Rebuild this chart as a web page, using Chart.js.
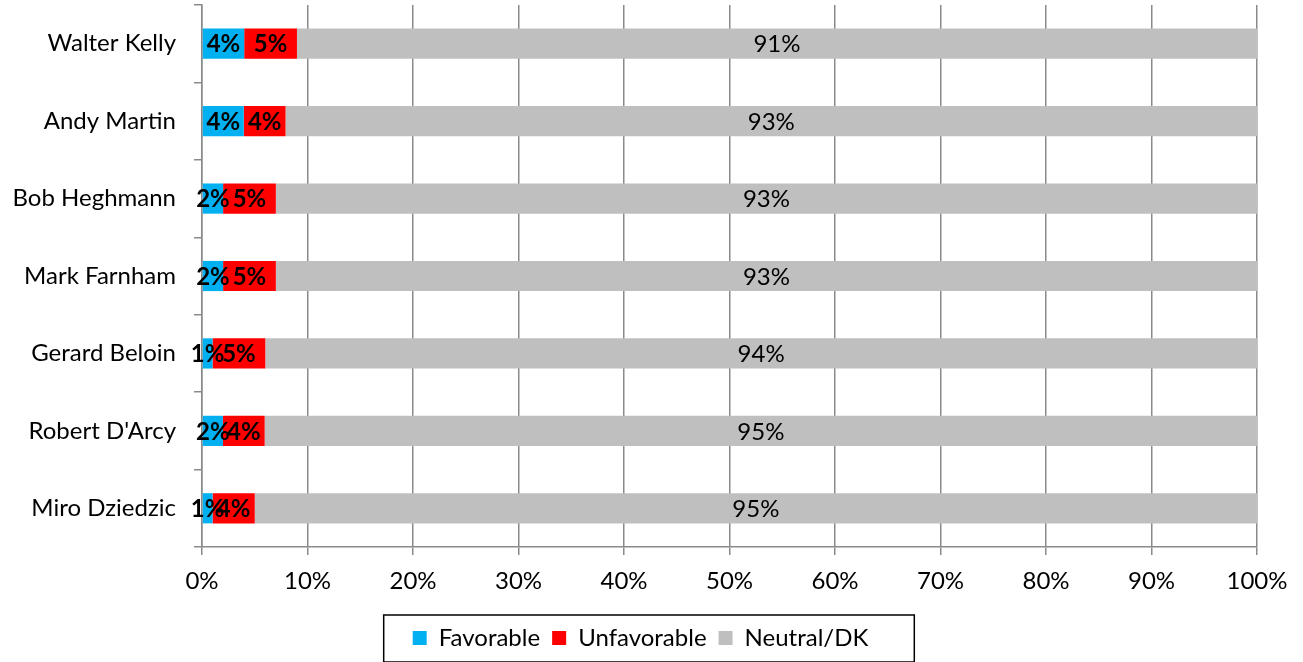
<!DOCTYPE html>
<html>
<head>
<meta charset="utf-8">
<script src="https://cdn.jsdelivr.net/npm/chart.js@4.4.1/dist/chart.umd.min.js"></script>
<style>
  html, body { margin: 0; padding: 0; background: #fff; }
  #wrap { width: 1303px; height: 662px; position: relative; }
</style>
</head>
<body>
<div id="wrap"><canvas id="bar-chart"></canvas></div>
<script>
// favorability of candidates, 100% stacked bars

const candidates = ['Walter Kelly', 'Andy Martin', 'Bob Heghmann', 'Mark Farnham', 'Gerard Beloin', "Robert D'Arcy", 'Miro Dziedzic'];
const favorable = [4, 4, 2, 2, 1, 2, 1];
const unfavorable = [5, 4, 5, 5, 5, 4, 4];
const neutral = [91, 93, 93, 93, 94, 95, 95];
const seriesNames = ['Favorable', 'Unfavorable', 'Neutral/DK'];
const tickValues = [0, 10, 20, 30, 40, 50, 60, 70, 80, 90, 100];

const FONT = 'Lato';
const gridColor = '#8a8a8a';

// Excel draws these as 100% stacked, so each row is scaled to its own total
const rows = [favorable, unfavorable, neutral];
const totals = candidates.map((c, i) => favorable[i] + unfavorable[i] + neutral[i]);
const share = (arr) => arr.map((v, i) => v / totals[i] * 100);

const barLabels = {
	id: 'barLabels',
	afterDatasetsDraw(chart) {
		const ctx = chart.ctx;
		ctx.save();
		ctx.textAlign = 'center';
		ctx.textBaseline = 'middle';
		ctx.fillStyle = '#000';
		chart.data.datasets.forEach((ds, di) => {
			ctx.font = (di < 2 ? 'bold ' : '') + '24px ' + FONT;
			chart.getDatasetMeta(di).data.forEach((bar, i) => {
				ctx.fillText(rows[di][i] + '%', (bar.x + bar.base) / 2, bar.y + 1);
			});
		});
		ctx.restore();
	}
};

// legend sits a bit right of the plot centre, with a black frame round it
const legendFrame = {
	id: 'legendFrame',
	afterLayout(chart) {
		chart.legend.left += 12;
		chart.legend.right += 12;
	},
	afterDraw(chart) {
		const lg = chart.legend;
		if (!lg || !lg.legendHitBoxes.length) return;
		const hb = lg.legendHitBoxes;
		const left = Math.min(...hb.map(h => h.left)) - 29;
		const right = Math.max(...hb.map(h => h.left + h.width)) + 46;
		const mid = hb[0].top + hb[0].height / 2;
		const ctx = chart.ctx;
		ctx.save();
		ctx.strokeStyle = '#000';
		ctx.lineWidth = 1.5;
		ctx.strokeRect(left, mid - 23, right - left, 47);
		ctx.restore();
	}
};

new Chart(document.getElementById('bar-chart'), {
	type: 'bar',
	data: {
		labels: candidates,
		datasets: [{
			label: seriesNames[0],
			data: share(favorable),
			backgroundColor: '#00B0F0'
		}, {
			label: seriesNames[1],
			data: share(unfavorable),
			backgroundColor: '#FF0000'
		}, {
			label: seriesNames[2],
			data: share(neutral),
			backgroundColor: '#BFBFBF'
		}]
	},
	plugins: [barLabels, legendFrame],
	options: {
		indexAxis: 'y',
		responsive: true,
		maintainAspectRatio: false,
		devicePixelRatio: 1,
		animation: false,
		events: [],
		barPercentage: 0.39,
		categoryPercentage: 1,
		layout: { padding: { top: 5, right: 46, left: 0, bottom: 2 } },
		scales: {
			x: {
				stacked: true,
				min: 0,
				max: 100,
				afterBuildTicks(scale) {
					scale.ticks = tickValues.map(v => ({ value: v }));
				},
				afterFit(scale) { scale.height = 67; },
				ticks: {
					callback: (v) => v + '%',
					color: '#000',
					padding: 12,
					font: { family: FONT, size: 24 }
				},
				grid: { color: gridColor, lineWidth: 1.5, tickLength: 8, tickColor: gridColor },
				border: { display: true, color: gridColor, width: 1.5 }
			},
			y: {
				stacked: true,
				afterFit(scale) {
					scale.width = 202;
					scale.paddingTop = 0;
					scale.paddingBottom = 0;
				},
				ticks: {
					color: '#000',
					padding: 18,
					font: { family: FONT, size: 24 }
				},
				grid: { drawOnChartArea: false, drawTicks: true, tickLength: 8, tickColor: gridColor, lineWidth: 1.5, offset: true },
				border: { display: true, color: gridColor, width: 1.5 }
			}
		},
		plugins: {
			title: { display: false },
			tooltip: { enabled: false },
			legend: {
				position: 'bottom',
				labels: {
					boxWidth: 14,
					boxHeight: 14,
					padding: 12,
					color: '#000',
					font: { family: FONT, size: 24 }
				}
			}
		}
	}
});
</script>
</body>
</html>
